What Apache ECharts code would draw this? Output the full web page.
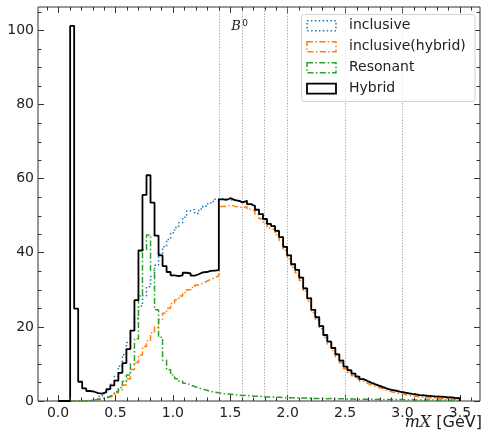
<!DOCTYPE html>
<html>
<head>
<meta charset="utf-8">
<script src="https://cdn.jsdelivr.net/npm/echarts@6/dist/echarts.min.js"></script>
<style>
  html, body { margin: 0; padding: 0; background: #fff; }
  #chart { width: 484px; height: 435px; }
</style>
</head>
<body>
<div id="chart"></div>
<script>
// Histogram binning: 100 bins of 35 MeV from 0 to 3.5 GeV
const BIN_WIDTH = 0.035;
const N_BINS = 100;
const binEdges = Array.from({ length: N_BINS + 1 }, (_, i) => Math.round(i * BIN_WIDTH * 1000) / 1000);

const seriesNames = ['inclusive', 'inclusive(hybrid)', 'Resonant', 'Hybrid'];

// Bin contents per sample
const inclusive = [
  0, 0, 0, 0, 0, 0, 0, 0.1, 0.3, 0.6,
  1.2, 2.0, 3.0, 4.5, 6.6, 9.4, 12.5, 15.8, 19.0, 22.4,
  25.6, 28.4, 30.8, 33.6, 36.6, 39.6, 41.6, 43.6, 45.4, 46.8,
  48.1, 49.6, 51.3, 51.7, 50.6, 51.8, 52.6, 53.2, 53.8, 54.4,
  54.6, 54.4, 54.8, 54.2, 54.1, 53.7, 54.0, 53.2, 52.7, 51.7,
  50.5, 49.2, 47.9, 47.3, 46.0, 44.3, 41.7, 39.4, 37.0, 35.5,
  33.4, 30.5, 27.8, 24.7, 22.7, 20.3, 17.9, 16.1, 14.4, 12.7,
  11.0, 9.4, 8.4, 7.5, 6.7, 6.0, 5.5, 5.0, 4.6, 4.2,
  3.8, 3.4, 3.1, 2.9, 2.6, 2.4, 2.2, 2.0, 1.9, 1.7,
  1.6, 1.5, 1.4, 1.3, 1.3, 1.2, 1.1, 1.1, 0.9, 0.9
];
const inclusiveHybrid = [
  0, 0, 0, 0, 0, 0.05, 0.1, 0.15, 0.25, 0.4,
  0.6, 0.8, 1.1, 1.5, 2.2, 3.0, 4.3, 6.0, 8.5, 10.4,
  12.4, 14.7, 16.2, 18.4, 20.0, 22.0, 23.7, 25.0, 26.3, 27.3,
  28.3, 29.3, 30.0, 30.6, 31.3, 31.8, 32.3, 32.8, 33.3, 33.8,
  52.5, 52.5, 52.9, 52.5, 52.4, 52.1, 52.5, 51.7, 51.3, 50.3,
  49.2, 48.0, 46.7, 46.2, 44.9, 43.3, 40.7, 38.4, 36.1, 34.6,
  32.5, 29.6, 27.0, 23.9, 21.9, 19.5, 17.1, 15.3, 13.6, 11.9,
  10.3, 8.7, 7.7, 6.8, 6.0, 5.3, 4.8, 4.3, 3.9, 3.6,
  3.2, 2.8, 2.5, 2.3, 2.0, 1.8, 1.6, 1.4, 1.3, 1.1,
  1.0, 0.9, 0.8, 0.8, 0.7, 0.7, 0.6, 0.6, 0.4, 0.4
];
const resonant = [
  0, 0, 0, 0, 0, 0, 0, 0, 0.2, 0.4,
  0.6, 0.9, 1.3, 1.8, 2.5, 3.6, 5.3, 7.0, 10.0, 16.8,
  28.3, 40.8, 44.8, 35.2, 24.6, 17.2, 11.0, 8.4, 7.0, 6.0,
  5.4, 4.8, 4.3, 3.9, 3.5, 3.2, 2.9, 2.6, 2.4, 2.2,
  2.0, 1.9, 1.8, 1.7, 1.6, 1.5, 1.5, 1.4, 1.3, 1.3,
  1.2, 1.1, 1.1, 1.0, 1.0, 0.9, 0.9, 0.9, 0.8, 0.8,
  0.8, 0.8, 0.7, 0.7, 0.7, 0.7, 0.6, 0.7, 0.6, 0.6,
  0.6, 0.5, 0.6, 0.5, 0.5, 0.5, 0.5, 0.5, 0.4, 0.5,
  0.4, 0.4, 0.4, 0.4, 0.4, 0.4, 0.3, 0.4, 0.3, 0.3,
  0.3, 0.3, 0.3, 0.3, 0.2, 0.3, 0.2, 0.2, 0.2, 0.2
];
const hybrid = [
  0, 0, 0, 101.2, 24.9, 5.2, 3.4, 2.7, 2.5, 2.1,
  2.0, 2.4, 3.2, 4.2, 5.5, 7.6, 10.2, 14.0, 19.0, 27.2,
  40.6, 55.6, 60.9, 53.5, 44.6, 39.3, 36.4, 34.8, 33.9, 33.7,
  33.9, 34.6, 34.4, 33.8, 34.2, 34.7, 34.8, 35.1, 35.2, 35.3,
  54.4, 54.3, 54.7, 54.2, 54.0, 53.6, 54.0, 53.1, 52.6, 51.6,
  50.4, 49.1, 47.8, 47.2, 45.9, 44.2, 41.6, 39.3, 36.9, 35.4,
  33.3, 30.4, 27.7, 24.6, 22.6, 20.2, 17.8, 16.0, 14.3, 12.6,
  10.9, 9.3, 8.3, 7.4, 6.6, 5.9, 5.4, 4.9, 4.5, 4.1,
  3.7, 3.3, 3.0, 2.8, 2.5, 2.3, 2.1, 1.9, 1.8, 1.6,
  1.5, 1.4, 1.3, 1.2, 1.2, 1.1, 1.0, 1.0, 0.8, 0.8
];

// Axis ticks
const xMajorTicks = [0, 0.5, 1.0, 1.5, 2.0, 2.5, 3.0, 3.5];
const xMinorTicks = [-0.1, 0.1, 0.2, 0.3, 0.4, 0.6, 0.7, 0.8, 0.9, 1.1, 1.2, 1.3, 1.4,
  1.6, 1.7, 1.8, 1.9, 2.1, 2.2, 2.3, 2.4, 2.6, 2.7, 2.8, 2.9, 3.1, 3.2, 3.3, 3.4, 3.6];
const yMajorTicks = [0, 20, 40, 60, 80, 100];
const yMinorTicks = [5, 10, 15, 25, 30, 35, 45, 50, 55, 65, 70, 75, 85, 90, 95, 105];

// Vertical guide lines (mX bin boundaries of the hybrid model)
const boundaryLines = [1.4, 1.6, 1.8, 2.0, 2.5, 3.0];
const annotationText = { base: 'B', sup: '0', x: 1.5, y: 100 };
const xLabelMath = 'mX';
const xLabelUnit = ' [GeV]';

const X_MIN = -0.175, X_MAX = 3.675, Y_MIN = 0, Y_MAX = 106.3;
const MAJOR_LEN = 6, MINOR_LEN = 3.5;

function stepPoints(counts) {
  const pts = [[binEdges[0], 0]];
  counts.forEach((c, i) => pts.push([binEdges[i], c]));
  pts.push([binEdges[N_BINS], counts[N_BINS - 1]]);
  pts.push([binEdges[N_BINS], 0]);
  return pts;
}

const AXIS_COLOR = '#333';
const LABEL_FONT = 'DejaVu Sans';

function xAxisDef(position, showLabel) {
  return {
    type: 'value', position, min: X_MIN, max: X_MAX,
    splitLine: { show: false }, axisLine: { show: false, onZero: false },
    axisTick: { show: true, inside: true, length: MAJOR_LEN, customValues: xMajorTicks, lineStyle: { color: AXIS_COLOR, width: 1 } },
    axisLabel: {
      show: showLabel, customValues: xMajorTicks, formatter: v => v.toFixed(1),
      fontSize: 14, color: '#222', fontFamily: LABEL_FONT, margin: 5
    }
  };
}
function yAxisDef(position, showLabel) {
  return {
    type: 'value', position, min: Y_MIN, max: Y_MAX,
    splitLine: { show: false }, axisLine: { show: false, onZero: false },
    axisTick: { show: true, inside: true, length: MAJOR_LEN, customValues: yMajorTicks, lineStyle: { color: AXIS_COLOR, width: 1 } },
    axisLabel: {
      show: showLabel, customValues: yMajorTicks, formatter: v => String(Math.round(v)),
      fontSize: 14, color: '#222', fontFamily: LABEL_FONT, margin: 4
    }
  };
}

const COLORS = ['#1f77b4', '#ff7f0e', '#2ca02c', '#000000'];
const DOTTED = [1.5, 2.4];
const DASHDOT = [6, 2.4, 1.5, 2.4];
const STYLES = [
  { color: COLORS[0], width: 1.5, type: DOTTED },
  { color: COLORS[1], width: 1.5, type: DASHDOT },
  { color: COLORS[2], width: 1.5, type: DASHDOT },
  { color: COLORS[3], width: 1.8, type: 'solid' }
];
const dataSets = [inclusive, inclusiveHybrid, resonant, hybrid];

const chart = echarts.init(document.getElementById('chart'), null, { renderer: 'canvas' });

const series = dataSets.map((d, k) => ({
  name: seriesNames[k],
  type: 'line',
  step: 'end',
  showSymbol: false,
  symbol: 'none',
  data: stepPoints(d),
  lineStyle: STYLES[k],
  itemStyle: { color: COLORS[k] },
  z: 3 + k,
  clip: true
}));

// guide lines drawn beneath the histograms
series.push({
  type: 'line', data: [], z: 1,
  markLine: {
    silent: true, symbol: ['none', 'none'], animation: false,
    label: { show: false },
    lineStyle: { color: '#9a9a9a', type: [1.2, 1.6], width: 0.9 },
    data: boundaryLines.map(v => ({ xAxis: v }))
  }
});

// minor ticks on all four sides, placed through the axis scales
const tickStyle = { stroke: AXIS_COLOR, lineWidth: 1 };
series.push({
  type: 'custom', z: 10, silent: true, clip: false,
  data: xMinorTicks.map(v => [v, Y_MIN]),
  renderItem: (params, api) => {
    const cs = params.coordSys;
    const x = Math.round(api.coord([api.value(0), Y_MIN])[0]) + 0.5;
    const yb = cs.y + cs.height, yt = cs.y;
    return {
      type: 'group', children: [
        { type: 'line', shape: { x1: x, y1: yb, x2: x, y2: yb - MINOR_LEN }, style: tickStyle },
        { type: 'line', shape: { x1: x, y1: yt, x2: x, y2: yt + MINOR_LEN }, style: tickStyle }
      ]
    };
  }
});
series.push({
  type: 'custom', z: 10, silent: true, clip: false,
  data: yMinorTicks.map(v => [X_MIN, v]),
  renderItem: (params, api) => {
    const cs = params.coordSys;
    const y = Math.round(api.coord([X_MIN, api.value(1)])[1]) + 0.5;
    const xl = cs.x, xr = cs.x + cs.width;
    return {
      type: 'group', children: [
        { type: 'line', shape: { x1: xl, y1: y, x2: xl + MINOR_LEN, y2: y }, style: tickStyle },
        { type: 'line', shape: { x1: xr, y1: y, x2: xr - MINOR_LEN, y2: y }, style: tickStyle }
      ]
    };
  }
});

chart.setOption({
  animation: false,
  backgroundColor: '#ffffff',
  grid: {
    left: 38, top: 7, right: 4, bottom: 34,
    show: true, borderColor: AXIS_COLOR, borderWidth: 1, backgroundColor: 'transparent',
    containLabel: false, outerBoundsMode: 'none'
  },
  xAxis: [xAxisDef('bottom', true), xAxisDef('top', false)],
  yAxis: [yAxisDef('left', true), yAxisDef('right', false)],
  series
});

// annotation anchored in data coordinates
const anchor = chart.convertToPixel({ xAxisIndex: 0, yAxisIndex: 0 }, [annotationText.x, annotationText.y]);

// legend box with patch-style handles
const legendLeft = 301.5, legendTop = 14.5, rowGap = 21, firstRow = 25.7;
const legendDash = [DOTTED, DASHDOT, DASHDOT, null];
const graphic = [
  {
    type: 'rect', z: 50,
    shape: { x: legendLeft, y: legendTop, width: 173.5, height: 87, r: 3 },
    style: { fill: 'rgba(255,255,255,0.8)', stroke: '#d4d4d4', lineWidth: 1 }
  }
];
seriesNames.forEach((name, k) => {
  const cy = firstRow + k * rowGap;
  graphic.push({
    type: 'rect', z: 51,
    shape: { x: 307, y: cy - 5, width: 29, height: 10 },
    style: {
      fill: 'none', stroke: COLORS[k], lineWidth: k === 3 ? 1.8 : 1.5,
      lineDash: legendDash[k] || null
    }
  });
  graphic.push({
    type: 'text', z: 51, x: 349, y: cy,
    style: { text: name, fill: '#222', font: '14px "DejaVu Sans"', textVerticalAlign: 'middle', textAlign: 'left' }
  });
});
graphic.push({
  type: 'text', z: 20, x: anchor[0] + 1, y: anchor[1] + 3,
  style: { text: annotationText.base, fill: '#222', font: 'italic 13px "DejaVu Serif"', textVerticalAlign: 'bottom', textAlign: 'left' }
});
graphic.push({
  type: 'text', z: 20, x: anchor[0] + 12, y: anchor[1] - 2,
  style: { text: annotationText.sup, fill: '#222', font: '9px "DejaVu Sans"', textVerticalAlign: 'bottom', textAlign: 'left' }
});
// x axis title, right-aligned under the frame
graphic.push({
  type: 'text', z: 20, right: 2, top: 415,
  style: {
    text: '{m|' + xLabelMath + '}{u|' + xLabelUnit + '}',
    rich: {
      m: { font: 'italic 16px "DejaVu Serif"', fill: '#222' },
      u: { font: '16px "DejaVu Sans"', fill: '#222' }
    }
  }
});
chart.setOption({ graphic });
</script>
</body>
</html>
